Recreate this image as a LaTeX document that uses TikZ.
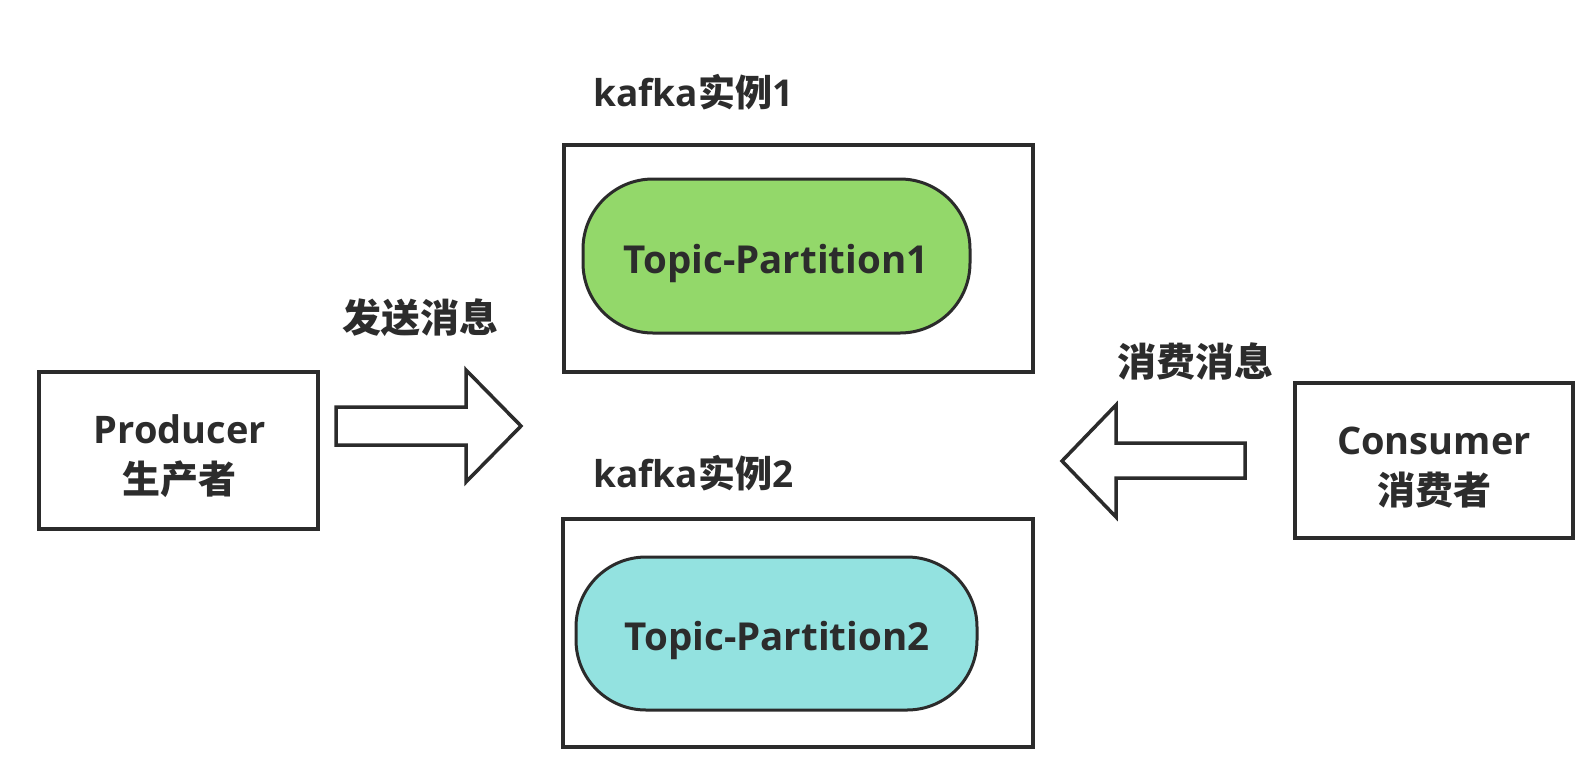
\documentclass[tikz,border=0pt]{standalone}
\usepackage{fontspec}
\setmainfont{Open Sans}
\newfontfamily\cjk{Noto Sans CJK SC}
\definecolor{ink}{HTML}{2B2B2B}
\definecolor{txt}{HTML}{2C2C2C}
\definecolor{pillgreen}{HTML}{93D86A}
\definecolor{pillteal}{HTML}{93E2E0}
\tikzset{
  box/.style={draw=ink, line width=4pt, fill=white, minimum width=#1, inner sep=0pt},
  pill/.style={draw=ink, line width=3pt, rounded corners=70pt, inner sep=0pt},
  lbl/.style={text=txt, font=\fontsize{37}{40}\selectfont\bfseries, inner sep=0pt},
  big/.style={text=txt, font=\fontsize{38.5}{42}\selectfont\bfseries, inner sep=0pt},
  blockarrow/.style={draw=ink, line width=3.5pt, fill=white, line join=miter},
}
\begin{document}
\begin{tikzpicture}[x=1pt,y=-1pt]
\useasboundingbox[fill=white] (0,0) rectangle (1596,772);
% kafka instance boxes
\node[box=469pt, minimum height=227pt] (k1) at (798.5,258.5) {};
\node[box=470pt, minimum height=228pt] (k2) at (798,633) {};
% partitions
\node[pill, fill=pillgreen, minimum width=387pt, minimum height=154pt] (p1) at (776.5,256) {};
\node[pill, fill=pillteal, minimum width=401pt, minimum height=153pt] (p2) at (776.5,633.5) {};
\node[big] (t1) at (776,263) {Topic-Partition1};
\node[big] (t2) at (777,640) {Topic-Partition2};
% instance labels
\node[lbl, anchor=west] (l1) at (593,92) {kafka{\cjk 实例}1};
\node[lbl, anchor=west] (l2) at (593,473) {kafka{\cjk 实例}2};
% producer / consumer
\node[box=279pt, minimum height=157pt] (prod) at (178.5,450.5) {};
\node[lbl, font=\fontsize{38}{40}\selectfont\bfseries] (prodt) at (180,429) {Producer};
\node[lbl, font=\fontsize{38}{40}\selectfont\bfseries] (prodc) at (179,479) {\cjk 生产者};
\node[box=278pt, minimum height=155pt] (cons) at (1434,460.5) {};
\node[lbl, font=\fontsize{38}{40}\selectfont\bfseries] (const) at (1434,441) {Consumer};
\node[lbl, font=\fontsize{38}{40}\selectfont\bfseries] (consc) at (1434,490) {\cjk 消费者};
% arrow labels
\node[lbl, font=\fontsize{39}{42}\selectfont\bfseries] (send) at (420,318) {\cjk 发送消息};
\node[lbl, font=\fontsize{39}{42}\selectfont\bfseries] (recv) at (1195,361) {\cjk 消费消息};
% block arrows
\coordinate (sa) at (336,426);
\coordinate (sb) at (521,426);
\draw[blockarrow] (sa) ++(0,-19) -- (466,407) -- (466,370) -- (sb) -- (466,482) -- (466,445) -- (336,445) -- cycle;
\coordinate (ra) at (1245,460.5);
\coordinate (rb) at (1062,461);
\draw[blockarrow] (ra) ++(0,-17.5) -- (1116,443) -- (1116,405) -- (rb) -- (1116,517) -- (1116,478) -- (1245,478) -- cycle;
\end{tikzpicture}
\end{document}
